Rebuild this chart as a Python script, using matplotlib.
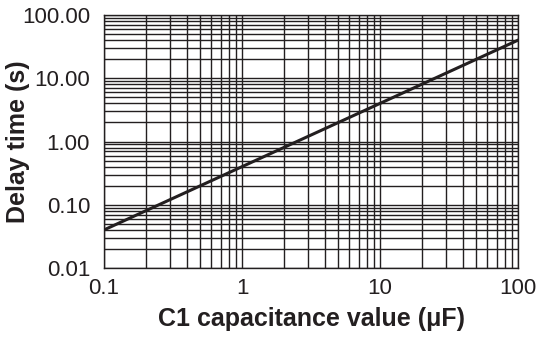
import numpy as np
from matplotlib import pyplot as plt
from matplotlib.ticker import LogLocator, NullFormatter

plt.rcParams['font.family'] = ['Liberation Sans', 'DejaVu Sans']

capacitance = [0.1, 1, 10, 100]
delay = [0.04, 0.4, 4, 40]
x_ticks = [0.1, 1, 10, 100]
x_labels = ['0.1', '1', '10', '100']
y_ticks = [0.01, 0.1, 1, 10, 100]
y_labels = ['0.01', '0.10', '1.00', '10.00', '100.00']

fig = plt.figure(figsize=(5.42, 3.46), dpi=100)
ax = fig.add_axes([104 / 542, 1 - 268 / 346, 414 / 542, 253 / 346])
ax.set_xscale('log')
ax.set_yscale('log')
ax.set_xlim(0.1, 100)
ax.set_ylim(0.01, 100)

ax.set_xticks(x_ticks)
ax.set_xticklabels(x_labels)
ax.set_yticks(y_ticks)
ax.set_yticklabels(y_labels)
ax.xaxis.set_minor_locator(LogLocator(base=10, subs=np.arange(2, 10)))
ax.yaxis.set_minor_locator(LogLocator(base=10, subs=np.arange(2, 10)))
ax.xaxis.set_minor_formatter(NullFormatter())
ax.yaxis.set_minor_formatter(NullFormatter())
ax.tick_params(which='both', length=0, labelsize=16, colors='#231f20')
ax.tick_params(axis='y', pad=10)
ax.tick_params(axis='x', pad=7)

ax.grid(True, which='both', color='#231f20', linewidth=1.0)
for s in ax.spines.values():
    s.set_color('#231f20')
    s.set_linewidth(1.0)

ax.plot(capacitance, delay, color='#231f20', linewidth=2.2)

ax.set_xlabel('C1 capacitance value (\u03bcF)', fontsize=18, fontweight='bold', color='#231f20')
ax.set_ylabel('Delay time (s)', fontsize=18, fontweight='bold', color='#231f20')
ax.xaxis.set_label_coords(0.5, -0.155)
ax.yaxis.set_label_coords(-0.179, 0.5)

fig.savefig('out.png', dpi=100)
